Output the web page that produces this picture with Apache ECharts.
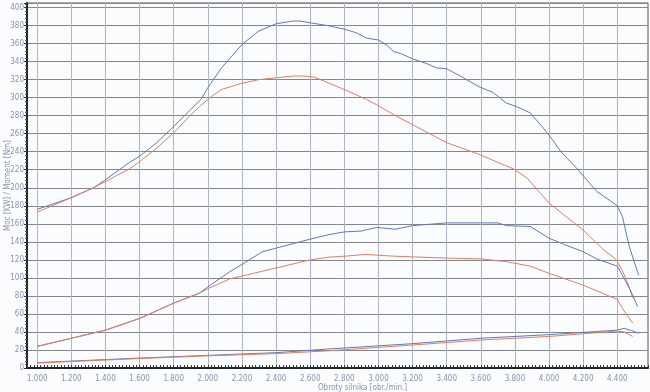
<!DOCTYPE html>
<html>
<head>
<meta charset="utf-8">
<script src="https://cdn.jsdelivr.net/npm/echarts@6/dist/echarts.min.js"></script>
<style>
html,body{margin:0;padding:0;background:#fbfcfd;}
#chart{width:650px;height:392px;}
</style>
</head>
<body>
<div id="chart"></div>
<script>
// Tick labels (rpm) shown on the x axis
var xTicks = [1000,1200,1400,1600,1800,2000,2200,2400,2600,2800,3000,3200,3400,3600,3800,4000,4200,4400];

// Torque, blue run [Nm]
var btRpm = [1000,1200,1330,1400,1540,1600,1700,1800,1890,1960,2000,2080,2200,2300,2400,2500,2540,2600,2700,2800,2870,2930,3000,3050,3090,3130,3200,3280,3340,3400,3480,3590,3670,3750,3810,3890,3990,4070,4160,4280,4400,4430,4470,4525];
var btVal = [176,189,200,209,228,235,250,268,285,298,311,333,359,374,382,385,385,383,380,376,372,366,364,358,351,349,343,338,333,332,324,312,306,294,290,283,261,240,222,196,180,168,135,103];

// Torque, red run [Nm]
var rtRpm = [1000,1200,1330,1400,1540,1600,1700,1800,1890,1950,2020,2080,2200,2300,2400,2500,2560,2620,2660,2800,2930,3000,3090,3200,3400,3590,3790,3870,4000,4200,4320,4390,4430,4460,4490];
var rtVal = [173,189,200,207,221,229,244,261,279,290,301,309,316,320,322,324,324,323,320,309,298,291,281,270,250,237,221,211,183,153,131,121,108,95,78];

// Power, blue run [kW]
var bpRpm = [1000,1200,1400,1600,1800,1950,2000,2130,2200,2320,2400,2600,2710,2800,2900,2990,3100,3200,3400,3600,3700,3750,3890,4000,4090,4200,4280,4400,4430,4475,4520];
var bpVal = [24,33,42,55,72,83,90,107,115,129,133,143,148,151,152,156,154,158,161,161,161,158,157,144,137,129,121,113,103,87,68];

// Power, red run [kW]
var rpRpm = [1000,1200,1400,1600,1800,1950,2000,2130,2200,2400,2600,2710,2800,2920,3100,3400,3600,3750,3890,4000,4200,4400,4430,4490];
var rpVal = [24,33,42,55,72,83,88,99,102,111,120,123,124,126,124,122,121,118,113,105,92,76,66,50];

// Loss power, blue run [kW]
var blRpm = [1000,1600,2000,2400,2700,3200,3600,4000,4400,4440,4485,4525];
var blVal = [6,11,14,17,21,27,33,37,42,44,41.5,38.5];

// Loss power, red run [kW]
var rlRpm = [1000,1600,2000,2400,2700,3200,3600,4000,4400,4440,4490];
var rlVal = [5.5,10.5,13.5,16,19,25.5,31,35,41,40,35];

var BLUE = '#6477bc';
var RED = '#df8062';
var LABEL = '#8893b3';
var FONT = "'Liberation Sans Narrow','DejaVu Sans Condensed','Liberation Sans',sans-serif";

function zip(a, b) { return a.map(function (x, i) { return [x, b[i]]; }); }
function fmt(v) { return (v / 1000).toFixed(3); }

function line(rpm, val, color) {
  return {
    type: 'line', data: zip(rpm, val), showSymbol: false, smooth: false,
    lineStyle: { color: color, width: 1 }, itemStyle: { color: color },
    xAxisIndex: 0, yAxisIndex: 0, silent: true
  };
}

var chart = echarts.init(document.getElementById('chart'), null, { renderer: 'canvas' });
chart.setOption({
  backgroundColor: '#fbfcfd',
  animation: false,
  grid: { left: 27, right: 2, top: 3, bottom: 24, outerBoundsMode: 'none', containLabel: false,
    show: true, borderColor: '#555', borderWidth: 1, backgroundColor: 'transparent' },
  xAxis: [{
    type: 'value', min: 940, max: 4580, position: 'bottom',
    axisLine: { show: true, onZero: false, lineStyle: { color: '#222', width: 2 } },
    axisTick: { show: false, customValues: xTicks },
    axisLabel: { customValues: xTicks, formatter: fmt, color: LABEL, fontSize: 8, margin: 7, fontFamily: FONT },
    splitLine: { show: true, lineStyle: { color: '#aeb4c6', width: 1 } },
    name: 'Obroty silnika [obr./min.]', nameLocation: 'middle', nameGap: 16, nameMoveOverlap: false,
    nameTextStyle: { color: LABEL, fontSize: 8, fontFamily: FONT, padding: [0, 0, 0, 50] }
  }, {
    type: 'value', min: 940, max: 4580, interval: 20, position: 'bottom',
    axisLine: { show: false },
    axisTick: { show: true, length: 3, inside: true, lineStyle: { color: '#333' } },
    axisLabel: { show: false }, splitLine: { show: false }
  }],
  yAxis: [{
    type: 'value', min: 0, max: 405, interval: 20,
    axisLine: { show: true, lineStyle: { color: '#222', width: 2 } },
    axisTick: { show: true, length: 3, lineStyle: { color: '#333' } },
    minorTick: { show: true, splitNumber: 5, length: 2, lineStyle: { color: '#555' } },
    axisLabel: { showMaxLabel: false, color: LABEL, fontSize: 8, margin: 3, fontFamily: FONT },
    splitLine: { show: true, lineStyle: { color: '#84868f', width: 1 } },
    name: 'Moc [KW] / Moment [Nm]', nameLocation: 'middle', nameGap: 15, nameRotate: 90, nameMoveOverlap: false,
    nameTextStyle: { color: LABEL, fontSize: 8, fontFamily: FONT }
  }],
  series: [
    line(btRpm, btVal, BLUE),
    line(rtRpm, rtVal, RED),
    line(bpRpm, bpVal, BLUE),
    line(rpRpm, rpVal, RED),
    line(blRpm, blVal, BLUE),
    line(rlRpm, rlVal, RED)
  ]
});
</script>
</body>
</html>
